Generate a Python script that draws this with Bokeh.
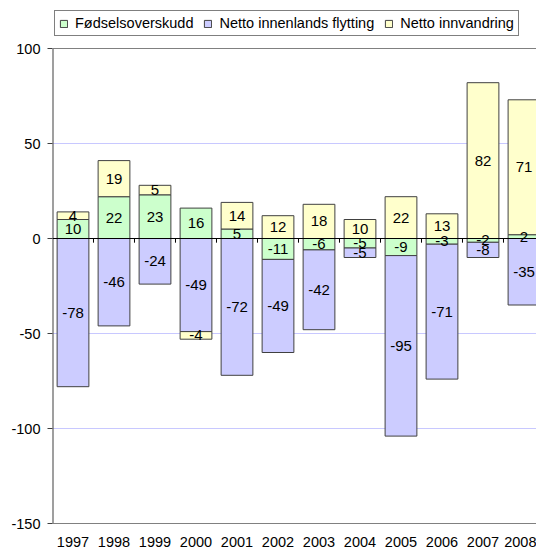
import numpy as np
from bokeh.plotting import figure
from bokeh.models import (ColumnDataSource, Range1d, FixedTicker, Span, Legend, LegendItem)
from bokeh.core.properties import value
from bokeh.embed import file_html
from bokeh.resources import INLINE

# ---- data ----
years = ["1997", "1998", "1999", "2000", "2001", "2002", "2003", "2004", "2005", "2006", "2007", "2008"]
fodselsoverskudd = [10, 22, 23, 16, 5, -11, -6, -5, -9, -3, -2, 2]
innenlands = [-78, -46, -24, -49, -72, -49, -42, -5, -95, -71, -8, -35]
innvandring = [4, 19, 5, -4, 14, 12, 18, 10, 22, 13, 82, 71]
series_names = ["Fødselsoverskudd", "Netto innenlands flytting", "Netto innvandring"]
y_ticks = [-150, -100, -50, 0, 50, 100]
Y_MIN, Y_MAX = -150, 100

colors = ["#ccffcc", "#ccccff", "#ffffcc"]
FONT = "Liberation Sans"

# frame extended above the value axis so the legend (drawn inside the frame) sits on top
PX_PER_UNIT = 475 / (Y_MAX - Y_MIN)
TOP_PAD = 48 / PX_PER_UNIT

p = figure(frame_width=484, frame_height=523, min_border_left=52, min_border_right=0,
           min_border_top=0, min_border_bottom=29, output_backend="svg",
           toolbar_location=None, x_range=Range1d(-0.5, 11.305),
           y_range=Range1d(Y_MIN, Y_MAX + TOP_PAD))
p.outline_line_color = None
p.background_fill_color = "white"
p.border_fill_color = "white"

xs = np.arange(len(years))
pos_base = np.zeros(len(years))
neg_base = np.zeros(len(years))
renderers = []
lbl_x, lbl_y, lbl_t = [], [], []
for vals, col in zip([fodselsoverskudd, innenlands, innvandring], colors):
    v = np.array(vals, dtype=float)
    bottom = np.where(v >= 0, pos_base, neg_base + v)
    top = np.where(v >= 0, pos_base + v, neg_base)
    pos_base = np.where(v >= 0, pos_base + v, pos_base)
    neg_base = np.where(v < 0, neg_base + v, neg_base)
    src = ColumnDataSource(dict(x=xs, top=top, bottom=bottom))
    r = p.vbar(x="x", top="top", bottom="bottom", width=0.775, source=src,
               fill_color=col, line_color="#404040", line_width=1)
    renderers.append(r)
    lbl_x += list(xs)
    lbl_y += list((top + bottom) / 2)
    lbl_t += [str(int(t)) for t in v]

p.text(x=lbl_x, y=lbl_y, text=lbl_t, text_align="center", text_baseline="middle",
       text_font=value(FONT), text_font_size="15px", text_color="black")

# zero axis line with category ticks
p.add_layout(Span(location=0, dimension="width", line_color="black", line_width=1))
TICK_LEN = 2.2
bounds = xs[1:] - 0.5
p.segment(x0=bounds, x1=bounds, y0=[0] * len(bounds), y1=[-TICK_LEN] * len(bounds),
          line_color="black", line_width=1)
p.add_layout(Span(location=Y_MAX, dimension="width", line_color="#808080", line_width=1))
# value-axis line only between Y_MIN and Y_MAX
p.segment(x0=[-0.5], x1=[-0.5], y0=[Y_MIN], y1=[Y_MAX], line_color="#404040", line_width=2)

# axes
p.xgrid.grid_line_color = None
p.ygrid.grid_line_color = "#c8c8ff"
p.ygrid.ticker = FixedTicker(ticks=y_ticks)
p.yaxis.ticker = FixedTicker(ticks=y_ticks)
p.yaxis.major_label_overrides = {t: str(t) for t in y_ticks}
p.yaxis.axis_line_color = None
p.yaxis.major_tick_line_color = "#404040"
p.yaxis.major_tick_out = 5
p.yaxis.major_tick_in = 0
p.yaxis.minor_tick_line_color = None
p.yaxis.major_label_standoff = 7
p.yaxis.major_label_text_font = FONT
p.yaxis.major_label_text_font_size = "14.5px"
p.yaxis.major_label_text_color = "black"

p.xaxis.ticker = FixedTicker(ticks=list(xs))
p.xaxis.major_label_overrides = {int(i): y for i, y in zip(xs, years)}
p.xaxis.axis_line_color = "#808080"
p.xaxis.major_tick_line_color = None
p.xaxis.minor_tick_line_color = None
p.xaxis.major_tick_out = 0
p.xaxis.major_tick_in = 0
p.xaxis.major_label_standoff = 13
p.xaxis.major_label_text_font = FONT
p.xaxis.major_label_text_font_size = "14.5px"
p.xaxis.major_label_text_color = "black"

legend = Legend(items=[LegendItem(label=n, renderers=[r]) for n, r in zip(series_names, renderers)],
                orientation="horizontal", location=(2, 487))
legend.label_text_font = FONT
legend.label_text_font_size = "14.5px"
legend.label_text_color = "black"
legend.glyph_width = 9
legend.glyph_height = 9
legend.label_standoff = 7
legend.spacing = 10
legend.padding = 4
legend.margin = 0
legend.label_height = 15
legend.border_line_color = "black"
legend.border_line_width = 1
legend.background_fill_color = "white"
legend.background_fill_alpha = 1
p.add_layout(legend, "center")

open("out.html", "w").write(file_html(p, INLINE))
